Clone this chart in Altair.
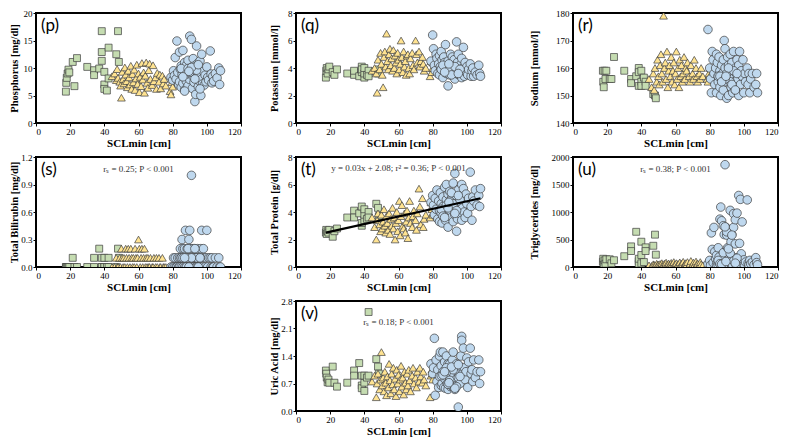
import altair as alt
import pandas as pd

# ---------------- data ----------------
x_juv = [17.5, 17.7, 18, 18.5, 19, 19.5, 21.5, 22.5, 24, 30,
         34, 34, 37, 38.5, 38.5, 38.5, 40, 40, 40, 41.5,
         42.5, 42.5, 47, 48, 48.5]
x_sub = [44.5, 46, 47, 47.5, 48, 49, 49.5, 50, 50.5, 51,
         51.5, 52, 52.5, 53, 53.5, 54, 54.5, 55, 55.5, 56,
         56.5, 57, 57.5, 58, 58.5, 59, 59.5, 60, 60.5, 61,
         61.5, 62, 62.5, 63, 63.5, 64, 64.5, 65, 65.5, 66,
         66.5, 67, 68, 68.5, 69, 70, 70.5, 71, 72, 72.5,
         73, 74, 74.5, 75, 76, 78.5, 79, 79.5, 80, 80]
x_adult = [79, 80, 80.5, 81, 81.5, 82, 82.5, 83, 83.5, 84,
           84, 84.5, 85, 85, 85.5, 86, 86, 86.5, 87, 87,
           87.5, 88, 88, 88.5, 89, 89, 89.5, 90, 90, 90.5,
           91, 91, 91.5, 92, 92, 92.5, 93, 93, 93.5, 94,
           94, 94.5, 95, 95, 95.5, 96, 96.5, 97, 97, 97.5,
           98, 98.5, 99, 99.5, 100, 100.5, 101, 102, 102.5, 103,
           103.5, 104, 105, 106, 107, 107.5, 108, 85, 88, 90,
           92, 94, 86, 89, 91, 93, 96, 87, 89.5, 95]

phos_juv = [5.7, 7.3, 8.2, 9.0, 9.7, 9.2, 11.1, 6.7, 11.8, 10.2,
            9.6, 8.7, 9.9, 11.3, 12.9, 16.7, 9.3, 7.0, 6.2, 5.9,
            13.7, 8.1, 12.5, 16.7, 11.1]
phos_sub = [8.5, 9.0, 7.8, 9.8, 8.2, 7.5, 6.8, 4.6, 9.3, 8.0,
            7.2, 10.1, 8.8, 7.6, 6.5, 9.5, 8.3, 7.0, 10.4, 6.2,
            8.9, 7.4, 9.7, 6.0, 8.1, 10.6, 7.1, 9.0, 5.6, 8.4,
            6.7, 10.9, 7.9, 9.2, 5.5, 8.6, 11.0, 7.3, 6.4, 9.6,
            10.8, 8.0, 6.9, 10.5, 7.6, 8.3, 6.2, 9.1, 7.5, 8.8,
            6.3, 8.6, 7.2, 8.0, 6.8, 5.8, 5.2, 7.4, 6.6, 7.9]
phos_adult = [8.3, 7.8, 9.5, 8.6, 11.9, 8.0, 14.9, 9.2, 7.0, 12.9,
              7.5, 9.8, 6.5, 10.4, 8.8, 7.2, 13.2, 9.5, 6.0, 11.0,
              8.1, 10.5, 7.6, 9.3, 6.8, 11.4, 8.6, 15.8, 7.9, 10.0,
              15.2, 9.0, 6.3, 8.4, 11.7, 7.4, 3.9, 9.7, 5.2, 14.0,
              8.2, 10.8, 6.6, 9.1, 7.7, 11.3, 5.0, 12.5, 8.0, 7.1,
              9.4, 6.9, 8.7, 7.5, 10.2, 8.3, 7.8, 13.1, 8.9, 7.3,
              8.5, 7.6, 9.0, 8.2, 10.0, 7.0, 9.5, 9.9, 8.9, 9.2,
              10.3, 9.6, 8.4, 9.9, 10.1, 8.0, 6.2, 5.8, 9.4, 10.6]

pot_juv = [3.3, 3.8, 4.0, 3.6, 3.9, 4.1, 3.7, 3.5, 3.9, 3.6,
           3.5, 3.8, 3.4, 3.7, 4.1, 3.9, 3.3, 3.6, 4.0, 3.5,
           3.8, 3.4, 3.7, 3.6, 3.9]
pot_sub = [3.8, 4.0, 3.6, 2.2, 4.6, 3.9, 5.1, 4.3, 3.5, 2.6,
           4.8, 5.2, 4.1, 6.5, 4.5, 3.9, 5.0, 5.4, 4.2, 4.7,
           3.8, 5.3, 4.0, 4.9, 4.4, 3.6, 5.1, 4.6, 3.9, 4.3,
           6.0, 4.8, 3.7, 5.2, 4.1, 4.5, 3.5, 4.9, 5.0, 4.0,
           3.6, 4.7, 5.1, 4.2, 3.9, 6.0, 5.0, 4.4, 5.2, 4.1,
           4.5, 4.8, 4.3, 3.8, 4.0, 3.4, 4.5, 3.7, 4.0, 4.4]
pot_adult = [4.5, 6.4, 5.4, 4.2, 3.8, 5.0, 4.7, 3.6, 4.3, 4.9,
             3.5, 4.1, 5.2, 3.9, 4.6, 4.0, 3.3, 4.8, 3.7, 4.4,
             5.7, 3.6, 4.2, 3.8, 2.7, 4.5, 4.0, 3.9, 3.5, 5.0,
             4.3, 3.7, 4.8, 4.1, 3.4, 4.6, 3.9, 3.2, 4.2, 5.9,
             3.6, 4.4, 3.9, 5.0, 3.5, 4.2, 3.8, 4.7, 3.3, 4.0,
             5.5, 3.4, 4.4, 3.7, 4.1, 3.5, 3.9, 4.3, 3.4, 3.8,
             4.0, 3.4, 3.7, 3.5, 4.2, 3.6, 3.4, 3.9, 3.8, 3.7,
             4.0, 3.6, 4.2, 3.8, 3.5, 4.1, 3.9, 3.7, 4.3, 3.6]

sod_juv = [159, 155, 153, 159, 156, 159, 156, 156, 164, 159,
           156, 154.5, 157, 160, 158.5, 153.5, 159, 155, 153.5, 156.5,
           155, 153.5, 150.5, 150, 149]
sod_sub = [156, 153, 158, 152, 160, 155, 163, 157, 154, 161,
           165, 158, 155, 179, 160, 162, 156, 166, 153, 159,
           161, 157, 164, 155, 159, 162, 154, 158, 166, 156,
           160, 153, 163, 157, 161, 155, 158, 164, 156, 160,
           159, 162, 157, 155, 161, 158, 156, 163, 160, 157,
           155, 158, 156, 160, 157, 156, 155, 158, 160, 157]
sod_adult = [174, 160, 156, 151, 166, 163, 158, 154, 160, 165,
             151, 162, 157, 155, 164, 159, 153, 150, 161, 156,
             158, 163, 152, 170, 160, 167, 155, 149, 157, 164,
             161, 150, 158, 156, 165, 153, 159, 162, 151, 157,
             166, 155, 160, 152, 158, 163, 156, 161, 150, 166,
             154, 159, 157, 163, 151, 158, 155, 160, 154, 158,
             151, 156, 158, 153, 154, 158, 151, 157, 156, 158,
             155, 159, 157, 156, 160, 154, 158, 155, 157, 152]

bil_juv = [0, 0, 0, 0, 0, 0, 0.1, 0, 0, 0,
           0.1, 0, 0.2, 0.1, 0, 0, 0.1, 0, 0, 0,
           0.1, 0, 0, 0.2, 0.1]
bil_sub = [0, 0, 0.1, 0, 0, 0.1, 0, 0.2, 0.1, 0,
           0.1, 0, 0.2, 0.1, 0, 0.2, 0.1, 0, 0.2, 0.1,
           0, 0.1, 0, 0.2, 0.1, 0, 0.1, 0.3, 0.2, 0,
           0.1, 0.2, 0, 0.1, 0.2, 0, 0.1, 0, 0.1, 0,
           0, 0.1, 0, 0, 0.1, 0, 0.1, 0, 0.1, 0,
           0, 0.1, 0, 0, 0, 0, 0, 0, 0, 0]
bil_adult = [0, 0, 0.1, 0, 0.1, 0, 0, 0.1, 0, 0.1,
             0, 0.2, 0, 0.1, 0.3, 0, 0.2, 0.1, 0, 0.2,
             0.4, 0.1, 0, 0.2, 0, 0.1, 0.3, 0.4, 0, 0.2,
             1.0, 0.1, 0, 0.2, 0.1, 0, 0.1, 0.2, 0, 0.1,
             0, 0.2, 0.1, 0, 0.1, 0, 0.2, 0.4, 0.1, 0,
             0.2, 0.1, 0, 0.1, 0.4, 0, 0.1, 0.1, 0, 0.1,
             0, 0, 0.1, 0, 0.1, 0, 0, 0.1, 0, 0.2,
             0.1, 0.1, 0.1, 0.2, 0.1, 0.2, 0.1, 0.1, 0, 0]

prot_juv = [2.5, 2.7, 2.4, 2.6, 2.5, 2.7, 2.2, 2.6, 2.8, 3.6,
            4.1, 3.6, 3.9, 3.0, 4.4, 3.2, 3.4, 3.8, 4.2, 3.5,
            4.0, 3.6, 4.6, 4.3, 3.7]
prot_sub = [3.6, 2.9, 2.0, 3.4, 3.9, 3.1, 2.6, 3.8, 2.8, 3.3,
            4.2, 3.0, 2.5, 3.7, 3.2, 2.7, 3.9, 2.4, 3.5, 3.0,
            4.3, 2.8, 3.6, 2.0, 3.2, 4.0, 2.6, 3.4, 4.8, 2.3,
            3.7, 4.5, 3.0, 2.8, 3.9, 2.5, 3.3, 4.1, 2.1, 3.6,
            4.8, 3.2, 2.9, 3.7, 4.1, 3.4, 2.7, 3.9, 5.7, 4.4,
            3.1, 5.0, 2.9, 3.5, 3.8, 3.6, 4.7, 4.2, 3.8, 4.5]
prot_adult = [4.7, 5.2, 4.5, 3.8, 5.0, 4.2, 5.6, 3.5, 4.8, 3.3,
              4.1, 5.4, 3.9, 4.6, 3.2, 5.1, 4.4, 3.7, 5.8, 4.0,
              3.4, 4.9, 6.0, 4.3, 2.9, 5.3, 4.6, 3.9, 5.5, 4.1,
              3.6, 5.0, 4.4, 3.3, 6.1, 4.8, 6.8, 3.8, 5.2, 2.6,
              4.5, 3.5, 5.6, 4.2, 3.9, 5.1, 4.7, 6.0, 3.4, 4.3,
              5.7, 4.0, 3.6, 5.3, 4.6, 3.9, 5.0, 6.9, 4.4, 3.4,
              5.1, 4.8, 5.6, 4.5, 5.2, 4.4, 5.7, 4.2, 4.5, 4.8,
              4.6, 4.1, 3.7, 4.3, 5.4, 3.9, 4.9, 3.6, 4.7, 5.2]
prot_fit_x = [17.5, 108]
prot_fit_y = [2.5, 5.0]

trig_juv = [95, 150, 40, 120, 60, 140, 140, 67, 123, 196,
            375, 290, 640, 106, 60, 150, 460, 218, 67, 90,
            358, 290, 386, 588, 224]
trig_sub = [30, 20, 50, 40, 25, 60, 35, 45, 20, 55,
            30, 70, 40, 25, 60, 35, 80, 45, 30, 65,
            40, 20, 75, 50, 30, 90, 45, 35, 70, 25,
            55, 40, 85, 30, 60, 45, 95, 35, 50, 70,
            40, 90, 30, 60, 110, 45, 80, 35, 100, 55,
            60, 40, 90, 50, 30, 45, 25, 55, 35, 60]
trig_adult = [60, 120, 30, 620, 320, 80, 720, 280, 150, 40,
              210, 90, 350, 30, 180, 870, 60, 1090, 840, 130,
              40, 750, 260, 590, 20, 1860, 720, 90, 580, 350,
              40, 680, 150, 1030, 60, 460, 590, 200, 30, 970,
              720, 110, 420, 860, 40, 980, 170, 1300, 50, 430,
              1230, 240, 820, 60, 130, 30, 90, 1220, 70, 40,
              120, 60, 90, 40, 170, 80, 40, 120, 20, 640,
              250, 110, 60, 730, 330, 580, 160, 50, 100, 70]

uric_juv = [1.03, 0.95, 0.85, 0.73, 0.8, 0.72, 1.13, 0.72, 0.62, 0.72,
            1.03, 0.9, 1.22, 0.65, 0.58, 0.9, 0.51, 0.72, 0.9, 0.85,
            2.52, 0.9, 1.32, 1.13, 0.95]
uric_sub = [0.75, 0.9, 0.35, 0.7, 0.95, 0.55, 0.8, 1.5, 0.65, 0.85,
            0.5, 1.0, 0.72, 0.4, 0.88, 0.6, 1.2, 0.78, 0.45, 0.95,
            0.68, 1.1, 0.55, 0.82, 0.38, 1.05, 0.7, 0.92, 0.5, 0.8,
            1.15, 0.62, 0.85, 0.42, 1.0, 0.72, 0.55, 0.95, 0.65, 1.05,
            0.78, 0.5, 0.9, 1.1, 0.7, 0.85, 0.6, 1.0, 0.75, 1.1,
            0.88, 0.72, 1.0, 0.8, 0.65, 0.35, 0.9, 1.05, 0.8, 0.95]
uric_adult = [1.2, 0.95, 1.1, 1.85, 0.4, 1.3, 0.75, 1.05, 0.6, 1.4,
              0.88, 1.5, 0.65, 1.15, 0.7, 1.0, 1.5, 0.6, 1.25, 0.82,
              0.58, 1.4, 0.95, 0.7, 1.2, 0.55, 1.05, 0.85, 1.2, 0.62,
              1.0, 0.75, 1.3, 0.6, 1.5, 0.9, 0.55, 1.1, 0.8, 1.2,
              0.65, 1.0, 0.1, 0.85, 1.15, 0.7, 1.4, 1.9, 1.8, 0.95,
              1.6, 1.1, 0.8, 1.0, 1.35, 0.6, 1.25, 1.6, 0.95, 1.05,
              0.75, 1.3, 0.85, 1.0, 1.3, 0.7, 1.0, 0.9, 1.1, 0.78,
              1.05, 0.62, 0.92, 0.68, 1.12, 0.58, 0.88, 1.0, 0.72, 1.18]

x_ticks = [0, 20, 40, 60, 80, 100, 120]

panels = [
    {"tag": "(p)", "title": "Phosphorus [mg/dl]", "dom": [0, 20], "ticks": [0, 5, 10, 15, 20],
     "ys": (phos_juv, phos_sub, phos_adult), "note": None, "ext": 15},
    {"tag": "(q)", "title": "Potassium [mmol/l]", "dom": [0, 8], "ticks": [0, 2, 4, 6, 8],
     "ys": (pot_juv, pot_sub, pot_adult), "note": None, "ext": 15},
    {"tag": "(r)", "title": "Sodium [mmol/l]", "dom": [140, 180], "ticks": [140, 150, 160, 170, 180],
     "ys": (sod_juv, sod_sub, sod_adult), "note": None, "ext": 32},
    {"tag": "(s)", "title": "Total Bilirubin [mg/dl]", "dom": [0, 1.2], "ticks": [0, 0.3, 0.6, 0.9, 1.2],
     "ys": (bil_juv, bil_sub, bil_adult), "note": "r\u209b = 0.25; P < 0.001", "ny": 12, "ext": 15},
    {"tag": "(t)", "title": "Total Protein [g/dl]", "dom": [0, 8], "ticks": [0, 2, 4, 6, 8],
     "ys": (prot_juv, prot_sub, prot_adult), "note": "y = 0.03x + 2.08; r\u00b2 = 0.36; P < 0.001",
     "ny": 11, "ext": 15},
    {"tag": "(u)", "title": "Triglycerides [mg/dl]", "dom": [0, 2000], "ticks": [0, 500, 1000, 1500, 2000],
     "ys": (trig_juv, trig_sub, trig_adult), "note": "r\u209b = 0.38; P < 0.001", "ny": 12, "ext": 32,
     "fmt": "d"},
    {"tag": "(v)", "title": "Uric Acid [mg/dl]", "dom": [0, 2.8], "ticks": [0, 0.7, 1.4, 2.1, 2.8],
     "ys": (uric_juv, uric_sub, uric_adult), "note": "r\u209b = 0.18; P < 0.001", "ny": 21, "ext": 15},
]

W, H = 205, 110
SERIF = "Liberation Serif"

groups = [
    ("juv", x_juv, "square", "#c5dcb1", 48),
    ("sub", x_sub, "triangle-up", "#ffe391", 60),
    ("adult", x_adult, "circle", "#bfd8ee", 74),
]


def make_panel(cfg, with_line=False):
    ax_kw = dict(values=cfg["ticks"], title=cfg["title"],
                 minExtent=cfg["ext"], maxExtent=cfg["ext"])
    if "fmt" in cfg:
        ax_kw["format"] = cfg["fmt"]
    xenc = alt.X("SCL:Q", scale=alt.Scale(domain=[0, 120], nice=False, zero=False),
                 axis=alt.Axis(values=x_ticks, title="SCLmin [cm]"))
    yenc = alt.Y("val:Q", scale=alt.Scale(domain=cfg["dom"], nice=False, zero=False),
                 axis=alt.Axis(**ax_kw))
    layers = []
    for (name, xs, shape, fill, size), ys in zip(groups, cfg["ys"]):
        df = pd.DataFrame({"SCL": xs[:len(ys)], "val": ys[:len(xs)]})
        layers.append(
            alt.Chart(df).mark_point(filled=True, shape=shape, fill=fill, size=size,
                                     stroke="#3d3d3d", strokeWidth=0.7, opacity=1,
                                     clip=True)
            .encode(x=xenc, y=yenc)
        )
    if with_line:
        ldf = pd.DataFrame({"SCL": prot_fit_x, "val": prot_fit_y})
        layers.append(alt.Chart(ldf).mark_line(color="black", strokeWidth=2.2)
                      .encode(x=xenc, y=yenc))
    tag = alt.Chart(pd.DataFrame({"t": [cfg["tag"]]})).mark_text(
        align="left", baseline="middle", font="Lato", fontSize=17, color="black"
    ).encode(x=alt.value(5), y=alt.value(13), text="t:N")
    layers.append(tag)
    if cfg["note"]:
        note = alt.Chart(pd.DataFrame({"t": [cfg["note"]]})).mark_text(
            align="center", baseline="middle", font=SERIF, fontSize=9, color="#333333"
        ).encode(x=alt.value(W * 0.5), y=alt.value(cfg["ny"]), text="t:N")
        layers.append(note)
    return alt.layer(*layers).properties(width=W, height=H)


cells = [make_panel(c, with_line=(c["tag"] == "(t)")) for c in panels[:6]]
blank = alt.Chart(pd.DataFrame({"a": [0]})).mark_point(opacity=0).encode(
    x=alt.X("a:Q", axis=None), y=alt.Y("a:Q", axis=None)
).properties(width=1, height=1, view=alt.ViewBackground(stroke="transparent"))
cells.append(blank)
cells.append(make_panel(panels[6]))

chart = alt.concat(*cells, columns=3, spacing={"row": 3, "column": 25}).properties(
    align="each", padding=0
).configure_view(
    stroke="black", strokeWidth=2
).configure_axis(
    domain=False, grid=False, ticks=True, tickColor="black", tickSize=3, tickWidth=1,
    labelFont=SERIF, labelFontSize=9, labelColor="black", labelPadding=1,
    titleFont=SERIF, titleFontSize=10.5, titleFontWeight="bold", titleColor="black",
    titlePadding=2
).configure_axisX(titlePadding=1, titleFontSize=11)

chart.save("out.html", embed_options={"renderer": "svg", "actions": False})
